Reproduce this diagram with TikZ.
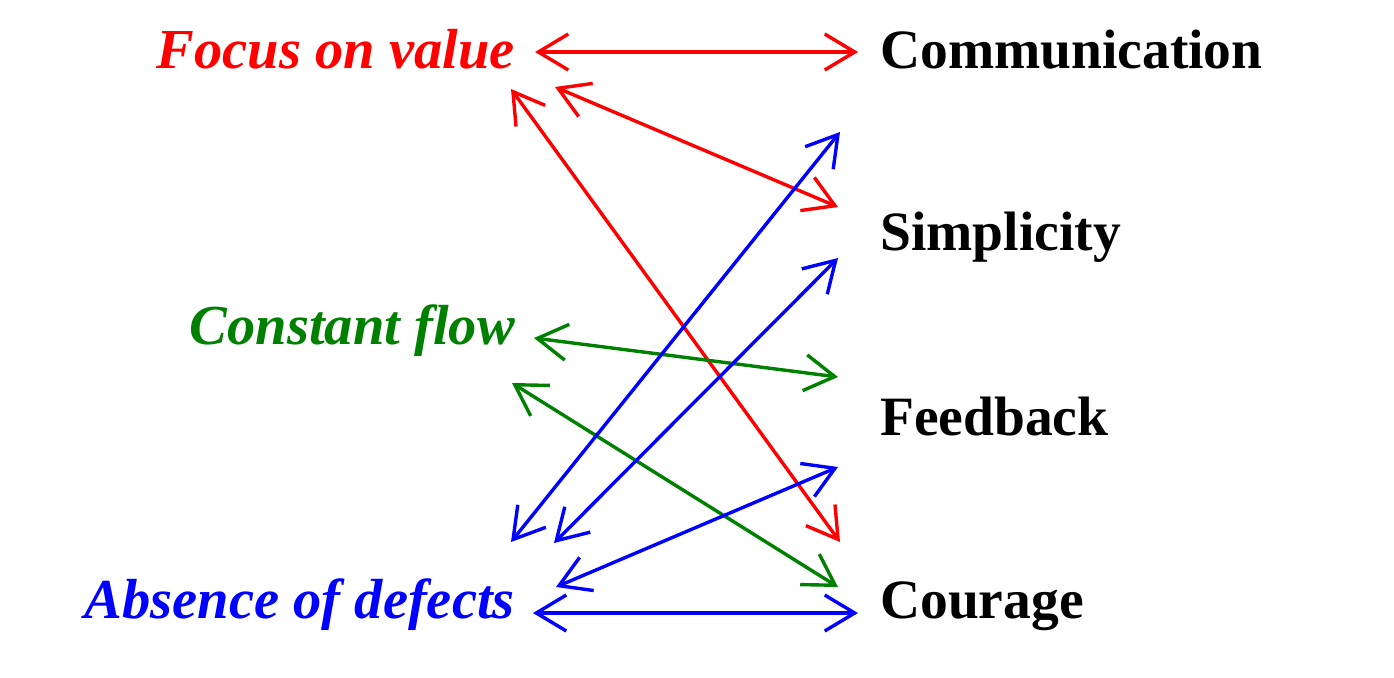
\documentclass[tikz,border=0pt]{standalone}
\usepackage{fontspec}
\setmainfont{Liberation Serif}
\usetikzlibrary{arrows.meta}
\definecolor{darkgreen}{RGB}{0,128,0}

\begin{document}
\begin{tikzpicture}[x=1pt,y=-1pt,
  >={Straight Barb[length=30pt,width=36pt]},
  value/.style={anchor=base west,inner sep=0pt,font=\fontsize{55.5}{60}\selectfont\bfseries},
  goal/.style={anchor=base east,inner sep=0pt,font=\fontsize{56.5}{60}\selectfont\bfseries\itshape},
  link/.style={<->,line width=3.4pt}]
  \useasboundingbox (0,0) rectangle (1394,677);
  % goals on the left
  \node[goal,red] (foc) at (515,68) {Focus on value};
  \node[goal,darkgreen] (flow) at (515,344) {Constant flow};
  \node[goal,blue] (abs) at (515,618) {Absence of defects};
  % values on the right
  \node[value] (com) at (880,68) {Communication};
  \node[value] (sim) at (880,250) {Simplicity};
  \node[value] (fee) at (880,435) {Feedback};
  \node[value] (cou) at (880,618) {Courage};
  % end points
  \coordinate (foc-1) at (535,52);
  \coordinate (foc-2) at (555,87);
  \coordinate (foc-3) at (511,89);
  \coordinate (flow-1) at (534,338);
  \coordinate (flow-2) at (512,383);
  \coordinate (abs-1) at (511,542);
  \coordinate (abs-2) at (554,543);
  \coordinate (abs-3) at (556,587);
  \coordinate (abs-4) at (533,613);
  \coordinate (com-1) at (858,52);
  \coordinate (com-2) at (840,132);
  \coordinate (sim-1) at (838,207);
  \coordinate (sim-2) at (838,258);
  \coordinate (fee-1) at (838,377);
  \coordinate (fee-2) at (838,467);
  \coordinate (cou-1) at (840,542);
  \coordinate (cou-2) at (838,587);
  \coordinate (cou-3) at (858,613);
  % links
  \draw[link,red] (foc-1) -- (com-1);
  \draw[link,red] (foc-2) -- (sim-1);
  \draw[link,red] (foc-3) -- (cou-1);
  \draw[link,darkgreen] (flow-1) -- (fee-1);
  \draw[link,darkgreen] (flow-2) -- (cou-2);
  \draw[link,blue] (abs-1) -- (com-2);
  \draw[link,blue] (abs-2) -- (sim-2);
  \draw[link,blue] (abs-3) -- (fee-2);
  \draw[link,blue] (abs-4) -- (cou-3);
\end{tikzpicture}
\end{document}
